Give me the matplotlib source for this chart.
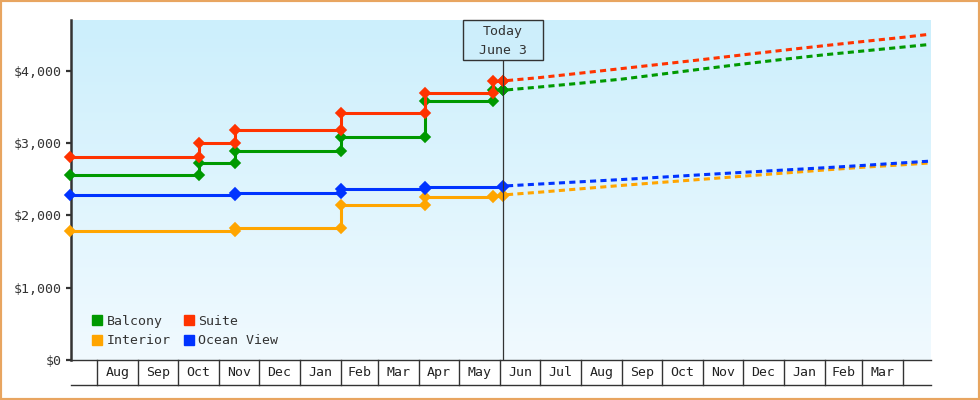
import numpy as np
import matplotlib
matplotlib.use("Agg")
import matplotlib.pyplot as plt
import matplotlib.dates as mdates
from matplotlib.lines import Line2D
from matplotlib.patches import Rectangle
import datetime as dt

plt.rcParams['font.family'] = ['DejaVu Sans Mono']

# ---------------- data ----------------
balcony_dates = ['2021-07-12', '2021-10-17', '2021-11-13', '2022-02-01', '2022-04-05', '2022-05-27', '2022-06-03']
balcony_prices = [2559, 2729, 2886, 3080, 3578, 3730, 3730]

suite_dates = ['2021-07-12', '2021-10-17', '2021-11-13', '2022-02-01', '2022-04-05', '2022-05-27', '2022-06-03']
suite_prices = [2803, 2997, 3178, 3412, 3688, 3859, 3859]

ocean_dates = ['2021-07-12', '2021-11-13', '2022-02-01', '2022-04-05', '2022-06-03']
ocean_prices = [2288, 2310, 2360, 2398, 2405]

interior_dates = ['2021-07-12', '2021-11-13', '2022-02-01', '2022-04-05', '2022-05-27', '2022-06-03']
interior_prices = [1782, 1821, 2140, 2254, 2268, 2282]

forecast_dates = ['2022-06-03', '2022-07-01', '2022-08-01', '2022-09-01', '2022-10-01', '2022-11-01',
                  '2022-12-01', '2023-01-01', '2023-02-01', '2023-03-01', '2023-04-01', '2023-04-21']
suite_forecast = [3859, 3906, 3968, 4031, 4092, 4156, 4220, 4285, 4348, 4403, 4463, 4505]
balcony_forecast = [3730, 3776, 3829, 3885, 3954, 4026, 4093, 4159, 4222, 4272, 4328, 4364]
ocean_forecast = [2405, 2434, 2465, 2496, 2529, 2563, 2595, 2627, 2659, 2690, 2727, 2750]
interior_forecast = [2282, 2321, 2368, 2415, 2457, 2500, 2542, 2585, 2628, 2665, 2700, 2725]

month_starts = ['2021-08-01', '2021-09-01', '2021-10-01', '2021-11-01', '2021-12-01', '2022-01-01',
                '2022-02-01', '2022-03-01', '2022-04-01', '2022-05-01', '2022-06-01', '2022-07-01',
                '2022-08-01', '2022-09-01', '2022-10-01', '2022-11-01', '2022-12-01', '2023-01-01',
                '2023-02-01', '2023-03-01', '2023-04-01']
month_labels = ['Aug', 'Sep', 'Oct', 'Nov', 'Dec', 'Jan', 'Feb', 'Mar', 'Apr', 'May', 'Jun', 'Jul',
                'Aug', 'Sep', 'Oct', 'Nov', 'Dec', 'Jan', 'Feb', 'Mar']

y_ticks = [0, 1000, 2000, 3000, 4000]
y_tick_labels = ['$0', '$1,000', '$2,000', '$3,000', '$4,000']

today_date = '2022-06-03'
today_text = 'Today\nJune 3'

series = [
    ('Interior', '#ffa500', interior_dates, interior_prices, interior_forecast),
    ('Ocean View', '#0033ff', ocean_dates, ocean_prices, ocean_forecast),
    ('Balcony', '#009900', balcony_dates, balcony_prices, balcony_forecast),
    ('Suite', '#ff3300', suite_dates, suite_prices, suite_forecast),
]
legend_order = ['Balcony', 'Interior', 'Suite', 'Ocean View']

# ---------------- helpers ----------------
def dnum(s):
    return mdates.date2num(dt.datetime.strptime(s, '%Y-%m-%d'))

# ---------------- figure ----------------
W, H = 980, 400
fig = plt.figure(figsize=(W / 100, H / 100), dpi=100)
fig.patch.set_facecolor('white')

L, R, T, B = 71, 930.7, 20, 360
ax = fig.add_axes([L / W, 1 - B / H, (R - L) / W, (B - T) / H])

xmin = dnum('2021-07-12') + 0.4
xmax = dnum('2023-04-01') + 20.7

# gradient background
top_c = np.array([204, 239, 252]) / 255
bot_c = np.array([241, 250, 255]) / 255
t = np.linspace(0, 1, 256)[:, None]
grad = (top_c[None, :] * (1 - t) + bot_c[None, :] * t)[:, None, :]
ax.imshow(grad, extent=[0, 1, 0, 1], transform=ax.transAxes, aspect='auto', zorder=0)
ax.set_xlim(xmin, xmax)
ax.set_ylim(0, 4702)

# series
handles = {}
for name, color, dates, prices, fc in series:
    xs, ys = [], []
    d = [dnum(s) for s in dates]
    for i in range(len(d)):
        if i > 0:
            xs.append(d[i]); ys.append(prices[i - 1])
        xs.append(d[i]); ys.append(prices[i])
    ax.plot(xs, ys, color=color, lw=2.2, marker='D', markersize=4.8, mew=1.2,
            mec=color, mfc=color, clip_on=False, zorder=4, solid_joinstyle='miter')
    fx = [dnum(s) for s in forecast_dates]
    ax.plot(fx, fc, color=color, lw=2.2, linestyle=(2.0, (2.0, 1.4)), dash_capstyle='butt',
            clip_on=True, zorder=3)
    handles[name] = Line2D([], [], color=color, marker='s', markersize=7.3, linestyle='none')

# spines & ticks
for s in ['top', 'right']:
    ax.spines[s].set_visible(False)
ax.spines['left'].set_linewidth(1.8)
ax.spines['left'].set_color('#333333')
ax.spines['bottom'].set_linewidth(1.0)
ax.spines['bottom'].set_color('#333333')
ax.set_xticks([])
ax.set_yticks(y_ticks)
ax.set_yticklabels(y_tick_labels)
ax.tick_params(axis='y', length=3.6, width=1.6, color='#333333', pad=3,
               labelsize=9.5, labelcolor='#333333')

# month strip below axis
xtr = ax.get_xaxis_transform()
strip = 25 / (B - T)
ms = [dnum(s) for s in month_starts]
for m in ms:
    ax.plot([m, m], [0, -strip], transform=xtr, color='#333333', lw=1.0, clip_on=False, zorder=5)
ax.plot([0, 1], [-strip, -strip], transform=ax.transAxes, color='#333333', lw=1.0,
        clip_on=False, zorder=5)
for i, lab in enumerate(month_labels):
    ax.text((ms[i] + ms[i + 1]) / 2, -strip / 2, lab, transform=xtr, ha='center', va='center',
            fontsize=9.5, color='#222222', clip_on=False)

# today marker
td = dnum(today_date)
box_h = 40.3 / (B - T)
ax.plot([td, td], [0, 1 - box_h], transform=xtr, color='#333333', lw=0.9, zorder=6)
tx = (td - xmin) / (xmax - xmin)
bw = 80 / (R - L)
ax.add_patch(Rectangle((tx - bw / 2, 1 - box_h), bw, box_h, transform=ax.transAxes,
                       facecolor='#cdeefb', edgecolor='#333333', lw=1.0, zorder=7, clip_on=False))
ax.text(tx, 1 - 12 / (B - T), today_text.split('\n')[0], transform=ax.transAxes, ha='center',
        va='center', fontsize=9.5, color='#333333', zorder=8)
ax.text(tx, 1 - 30 / (B - T), today_text.split('\n')[1], transform=ax.transAxes, ha='center',
        va='center', fontsize=9.5, color='#333333', zorder=8)

# legend
leg = ax.legend([handles[n] for n in legend_order], legend_order, ncol=2, loc='lower left',
                bbox_to_anchor=((93 - L - 1) / (R - L), 12.5 / (B - T)), frameon=False,
                fontsize=9.5, handlelength=0.8, handletextpad=0.3, columnspacing=1.0,
                labelspacing=0.52, borderpad=0, borderaxespad=0)
for txt in leg.get_texts():
    txt.set_color('#333333')

# orange border
fig.add_artist(Rectangle((0, 0), 1, 1, transform=fig.transFigure, fill=False,
                         edgecolor='#e8a560', lw=3))

fig.savefig('out.png', dpi=100)
